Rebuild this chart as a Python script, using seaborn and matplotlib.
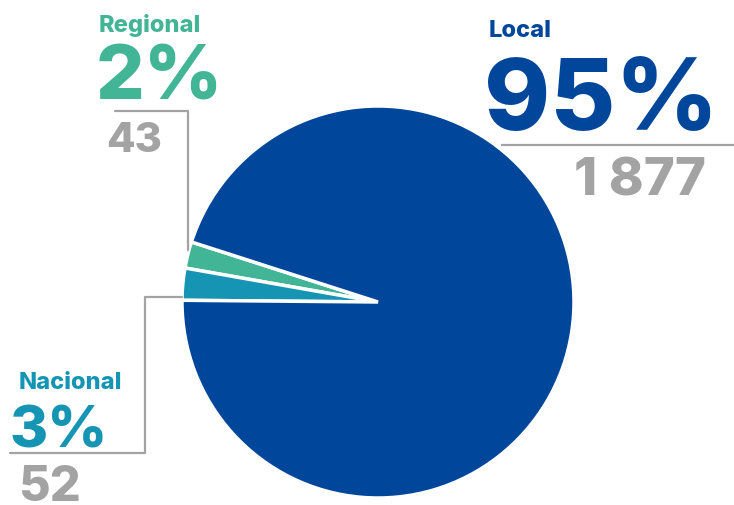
import matplotlib
matplotlib.use("Agg")
import matplotlib.pyplot as plt
import seaborn as sns

# Share of records by scope
categories = ["Regional", "Nacional", "Local"]
counts = [43, 52, 1877]
percent_labels = ["2%", "3%", "95%"]
count_labels = ["43", "52", "1 877"]
colors = ["#43b597", "#1595b3", "#00479b"]
gray = "#a3a3a3"

sns.set_theme(style="white")
plt.rcParams["font.family"] = ["Inter", "DejaVu Sans"]

W, H = 734, 505
fig = plt.figure(figsize=(W / 100, H / 100), dpi=100)
ax = fig.add_axes([0, 0, 1, 1])

total = sum(counts)
small_share = (counts[0] + counts[1]) / total * 360.0
start = 179.5 - small_share

ax.pie(counts, colors=colors, startangle=start, counterclock=True,
       center=(378, H - 302), radius=196, frame=False,
       wedgeprops=dict(edgecolor="white", linewidth=2.5))
ax.set_xlim(0, W)
ax.set_ylim(0, H)
ax.set_aspect("equal")
ax.axis("off")


def px(x, y):
    return x, H - y


def label(x, y, s, size, color):
    ax.text(*px(x, y), s, fontsize=size, color=color, fontweight="heavy",
            ha="left", va="baseline")


# Local
label(489, 37, categories[2], 17, colors[2])
label(484, 130, percent_labels[2], 72, colors[2])
label(574, 195, count_labels[2], 38, gray)
ax.plot([501, 734], [H - 145, H - 145], color=gray, lw=1.6, solid_capstyle="butt")

# Regional
label(99, 32, categories[0], 17, colors[0])
label(96, 100, percent_labels[0], 55, colors[0])
label(106, 152, count_labels[0], 30, gray)
ax.plot([115, 188, 188], [H - 111, H - 111, H - 250], color=gray, lw=1.6)

# Nacional
label(19, 389, categories[1], 17, colors[1])
label(9, 447, percent_labels[1], 42, colors[1])
label(18, 501, count_labels[1], 35, gray)
ax.plot([10, 145, 145, 182], [H - 453, H - 453, H - 297, H - 297], color=gray, lw=1.6)

fig.savefig("out.png", dpi=100)
